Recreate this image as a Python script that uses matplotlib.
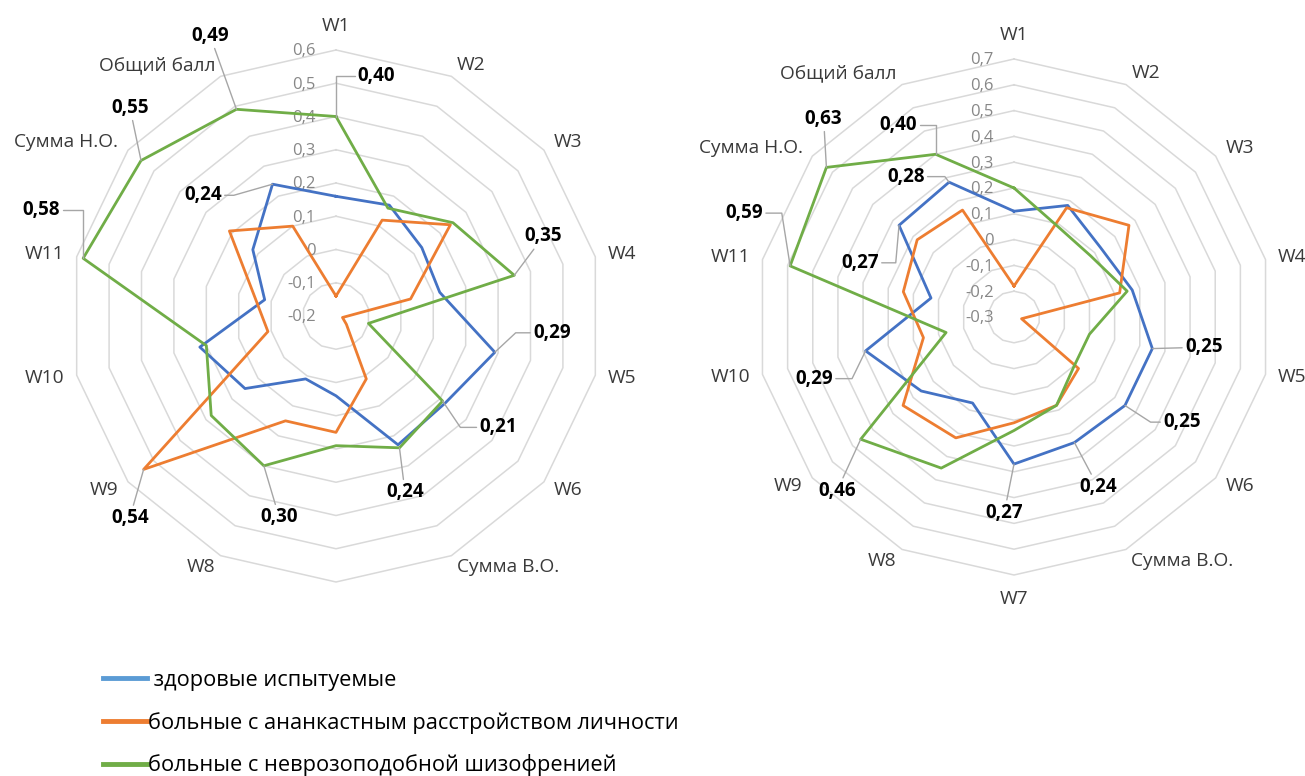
import numpy as np
import matplotlib.pyplot as plt

plt.rcParams['font.family'] = ['Open Sans', 'DejaVu Sans']

# categories (clockwise from the top)
categories = ['W1', 'W2', 'W3', 'W4', 'W5', 'W6', 'Сумма В.О.', 'W7', 'W8',
              'W9', 'W10', 'W11', 'Сумма Н.О.', 'Общий балл']
series_names = [' здоровые испытуемые',
                'больные с ананкастным расстройством личности',
                'больные с неврозоподобной шизофренией']
colors = ['#4472C4', '#ED7D31', '#70AD47']

# left chart
left_ticks = [-0.2, -0.1, 0.0, 0.1, 0.2, 0.3, 0.4, 0.5, 0.6]
left_healthy = [0.16, 0.17, 0.13, 0.12, 0.29, 0.22, 0.23, 0.04, 0.01, 0.15, 0.22, 0.02, 0.12, 0.24]
left_anank = [-0.14, 0.12, 0.24, 0.03, -0.18, -0.16, 0.01, 0.15, 0.15, 0.54, 0.01, 0.05, 0.21, 0.10]
left_schizo = [0.40, 0.16, 0.25, 0.35, -0.10, 0.21, 0.24, 0.19, 0.30, 0.28, 0.20, 0.58, 0.55, 0.49]

# right chart
right_ticks = [-0.3, -0.2, -0.1, 0.0, 0.1, 0.2, 0.3, 0.4, 0.5, 0.6, 0.7]
right_healthy = [0.11, 0.18, 0.13, 0.17, 0.25, 0.25, 0.24, 0.27, 0.07, 0.16, 0.29, 0.03, 0.27, 0.28]
right_anank = [-0.18, 0.17, 0.27, 0.12, -0.27, 0.02, 0.08, 0.11, 0.22, 0.25, 0.06, 0.14, 0.18, 0.16]
right_schizo = [0.20, 0.09, 0.08, 0.15, 0.00, 0.00, 0.08, 0.14, 0.35, 0.46, -0.03, 0.59, 0.63, 0.40]

# data labels: (series, category, text offset in points, leader angle at the point or None)
left_labels = [
    (2, 'W1', 29, 29, 90),
    (2, 'Общий балл', -19, 53, None),
    (2, 'Сумма Н.О.', -8, 38, None),
    (2, 'W11', -30, 35, 90),
    (0, 'Общий балл', -50, -8, 16),
    (2, 'W4', 21, 28, None),
    (0, 'W5', 41, 14, 43),
    (2, 'W6', 40, -19, -56),
    (2, 'Сумма В.О.', 4, -32, None),
    (2, 'W8', 11, -37, None),
    (1, 'W9', -10, -35, None),
]
right_labels = [
    (2, 'Сумма Н.О.', -2, 35, None),
    (2, 'Общий балл', -27, 21, 90),
    (0, 'Общий балл', -31, 4, 127),
    (2, 'W11', -33, 38, 99),
    (0, 'Сумма Н.О.', -28, -27, 85),
    (0, 'W10', -37, -20, 64),
    (2, 'W9', -17, -37, None),
    (0, 'W7', -7, -35, None),
    (0, 'Сумма В.О.', 17, -32, None),
    (0, 'W6', 41, -12, -33),
    (0, 'W5', 37, 1, None),
]


def fmt(v):
    return '0' if abs(v) < 1e-9 else f'{v:.1f}'.replace('.', ',')


def radar(ax, series, ticks, labels, hidden=()):
    n = len(categories)
    theta = np.linspace(0, 2 * np.pi, n, endpoint=False)
    closed = np.append(theta, theta[0])
    ax.set_theta_zero_location('N')
    ax.set_theta_direction(-1)
    ax.set_ylim(ticks[0], ticks[-1])
    ax.axis('off')

    # polygon grid rings
    for t in ticks[1:]:
        ax.plot(closed, [t] * (n + 1), color='#D9D9D9', lw=1.1, zorder=1, clip_on=False)
    for t in ticks:
        ax.annotate(fmt(t), xy=(0, t), xytext=(-14.5, -1), textcoords='offset points',
                    ha='right', va='center', fontsize=12, color='#878787',
                    zorder=2, annotation_clip=False)

    lines = []
    for vals, col in zip(series, colors):
        ln, = ax.plot(closed, np.append(vals, vals[0]), color=col, lw=2.0,
                      zorder=3, clip_on=False)
        lines.append(ln)

    # category names
    for k, name in enumerate(categories):
        if name in hidden:
            continue
        s, c = np.sin(theta[k]), np.cos(theta[k])
        if abs(s) < 0.2:
            ha, va, off = 'center', ('bottom' if c > 0 else 'top'), (0, 11 if c > 0 else -11)
        else:
            ha, va, off = ('left' if s > 0 else 'right'), 'center', (9 * s, 9 * c)
        ax.annotate(name, xy=(theta[k], ticks[-1]), xytext=off, textcoords='offset points',
                    ha=ha, va=va, fontsize=13.8, color='#3A3A3A', annotation_clip=False)

    # value labels with leader lines
    for si, cat, dx, dy, angb in labels:
        k = categories.index(cat)
        v = series[si][k]
        cs = 'arc3,rad=0' if angb is None else f'angle,angleA=0,angleB={angb},rad=0'
        ax.annotate(f'{v:.2f}'.replace('.', ','), xy=(theta[k], v), xytext=(dx, dy),
                    textcoords='offset points', ha='center', va='center',
                    fontsize=13.5, fontweight='bold', color='black', zorder=5,
                    annotation_clip=False,
                    arrowprops=dict(arrowstyle='-', color='#A6A6A6', lw=1.0,
                                    shrinkA=0, shrinkB=0, connectionstyle=cs))
    return lines


fig = plt.figure(figsize=(13.05, 7.76), dpi=100)
ax1 = fig.add_axes([0.05364, 0.25, 0.40766, 0.68557], projection='polar')
ax2 = fig.add_axes([0.57931, 0.25902, 0.3954, 0.66495], projection='polar')

handles = radar(ax1, [left_healthy, left_anank, left_schizo], left_ticks, left_labels, hidden=('W7',))
radar(ax2, [right_healthy, right_anank, right_schizo], right_ticks, right_labels)

leg = fig.legend(handles, series_names, loc='upper left',
                 bbox_to_anchor=(103 / 1305, 1 - 670 / 776), frameon=False,
                 fontsize=15.7, handlelength=2.0, handletextpad=0.05,
                 labelspacing=0.95, borderpad=0, borderaxespad=0)
for ln, col in zip(leg.get_lines(), ['#5B9BD5', '#ED7D31', '#70AD47']):
    ln.set_linewidth(3.5)
    ln.set_color(col)

fig.savefig('out.png', dpi=100)
